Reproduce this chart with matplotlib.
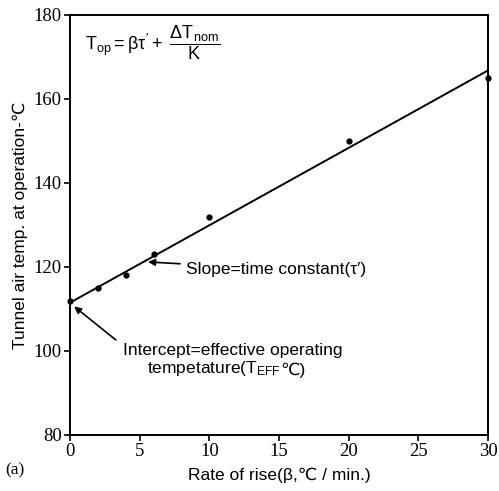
import matplotlib
matplotlib.use('Agg')
import matplotlib.pyplot as plt

# data
rate = [0, 2, 4, 6, 10, 20, 30]
t_op = [112, 115, 118, 123, 132, 150, 165]
fit_x = [0, 30]
fit_y = [111.5, 166.8]

xticks = [0, 5, 10, 15, 20, 25, 30]
yticks = [80, 100, 120, 140, 160, 180]

sans = ['Liberation Sans', 'DejaVu Sans']
plt.rcParams['mathtext.fontset'] = 'custom'
plt.rcParams['mathtext.rm'] = 'Liberation Sans'
plt.rcParams['mathtext.it'] = 'Liberation Sans'

fig = plt.figure(figsize=(4.99, 4.91), dpi=100)
ax = fig.add_axes([70/499, 1-435/491, 418/499, 420/491])

ax.plot(fit_x, fit_y, color='black', lw=1.4)
ax.plot(rate, t_op, 'o', color='black', ms=3.5, clip_on=False, zorder=3)

ax.set_xlim(0, 30)
ax.set_ylim(80, 180)
ax.set_xticks(xticks)
ax.set_yticks(yticks)
ax.tick_params(direction='out', length=4, width=1.2, labelsize=13.5, pad=2)
for lab in ax.get_xticklabels() + ax.get_yticklabels():
    lab.set_family('Liberation Serif')
for s in ax.spines.values():
    s.set_linewidth(1.4)

ax.set_xlabel('Rate of rise(β,℃ / min.)', family=sans, fontsize=12.5, labelpad=5)
ax.set_ylabel('Tunnel air temp. at operation-℃', family=sans, fontsize=12.5, labelpad=4)
fig.text(5/499, 1-470/491, '(a)', family='Liberation Serif', fontsize=12.5, va='center')

ax.text(1.1, 173.5, r'$\mathrm{T_{op}}=\beta\tau^{\prime}+\ \dfrac{\Delta\mathrm{T_{nom}}}{\mathrm{K}}$',
        fontsize=13, va='center')

ax.annotate('Slope=time constant(τ′)', xy=(5.6, 121.2), xytext=(8.3, 119.5),
            family=sans, fontsize=12.5, va='center',
            arrowprops=dict(arrowstyle='-|>', color='black', lw=1.2,
                            shrinkA=2, shrinkB=0, mutation_scale=10))
ax.annotate('Intercept=effective operating', xy=(0.3, 110.6), xytext=(3.8, 100.2),
            family=sans, fontsize=12.5, va='center',
            arrowprops=dict(arrowstyle='-|>', color='black', lw=1.2,
                            shrinkA=4, shrinkB=0, mutation_scale=10,
                            relpos=(0, 0.8)))
t1 = ax.text(5.5, 93.6, r'tempetature(T$_{\mathrm{EFF}}$', family=sans, fontsize=12.5,
             va='bottom')
ax.annotate('℃)', xy=(1, 0), xycoords=t1, family=sans, fontsize=12.5, va='bottom')

fig.savefig('out.png', dpi=100)
